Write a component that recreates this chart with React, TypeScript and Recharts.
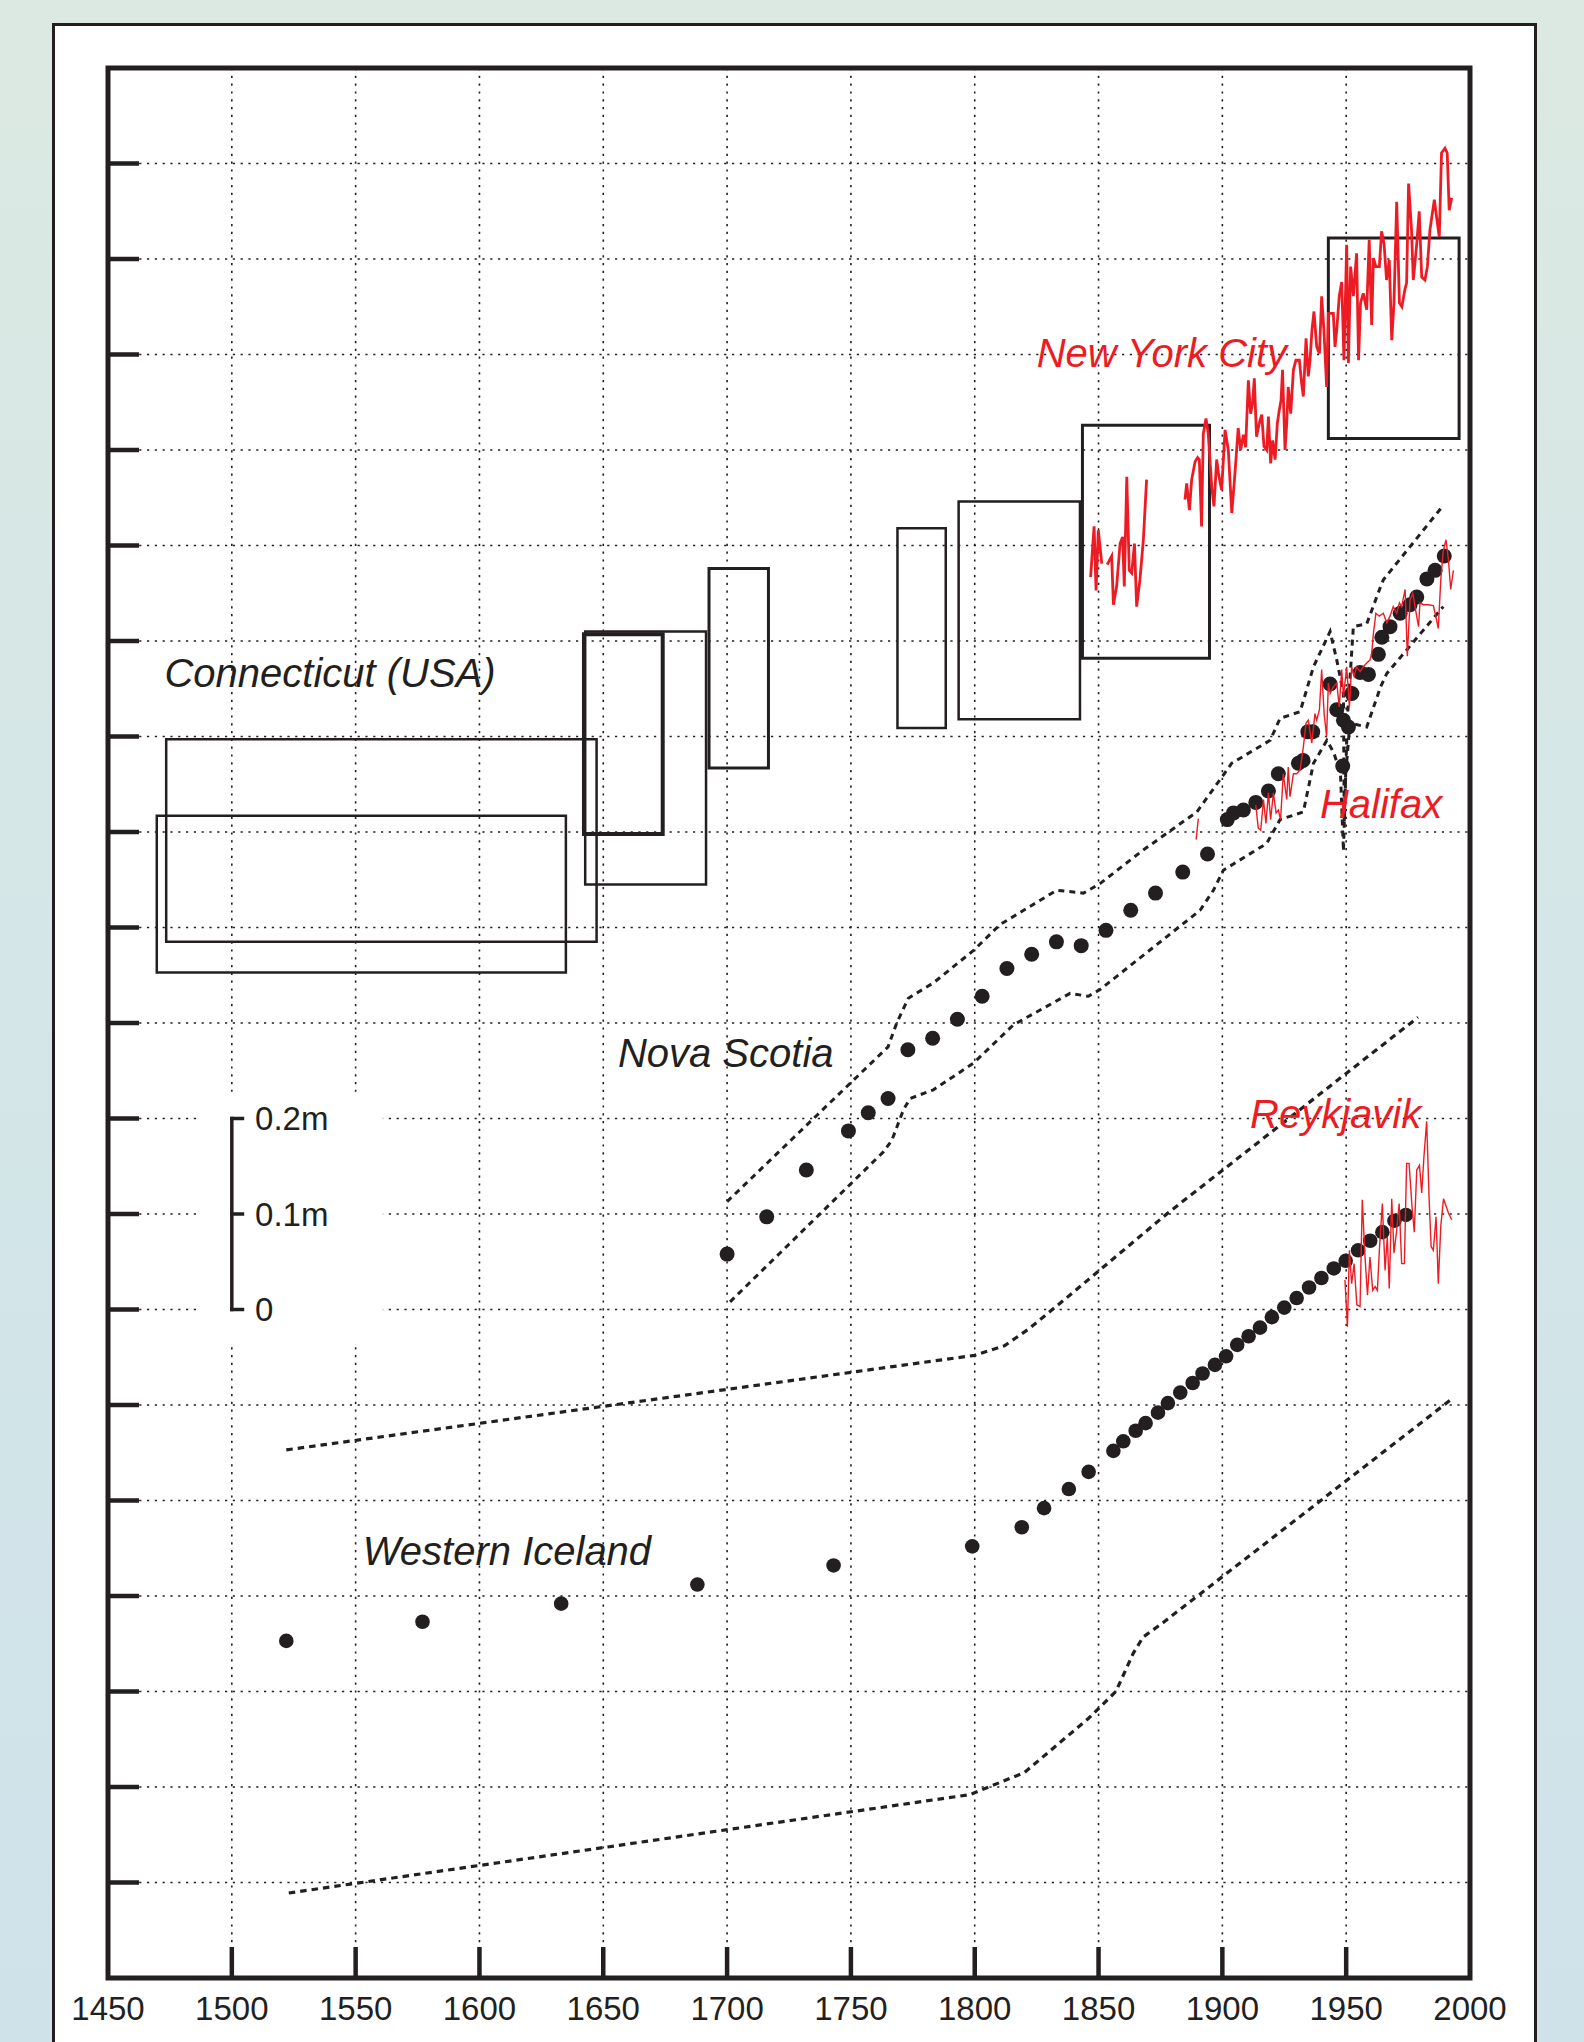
import React from 'react'
import {
  ComposedChart,
  XAxis,
  YAxis,
  CartesianGrid,
  Line,
  Scatter,
  ReferenceArea,
  ReferenceLine,
  ReferenceDot,
} from 'recharts'

const INK = '#231f20'
const RED = '#ed1c24'
const FONT = '"Liberation Sans", Arial, Helvetica, sans-serif'

type P = { year: number; v: number }
const pts = (rows: number[][]): P[] => rows.map(([year, v]) => ({ year, v }))

// axes
const yearTicks = [1450, 1500, 1550, 1600, 1650, 1700, 1750, 1800, 1850, 1900, 1950, 2000]
const levelTicks = [0.1, 0.2, 0.3, 0.4, 0.5, 0.6, 0.7, 0.8, 0.9, 1.0, 1.1, 1.2, 1.3, 1.4, 1.5, 1.6, 1.7, 1.8, 1.9]

// Connecticut salt-marsh boxes: [yearFrom, yearTo, levelLow, levelHigh, line width]
const connecticutBoxes = [
  [1469.7, 1634.9, 1.053, 1.217, 2.5],
  [1473.5, 1647.3, 1.085, 1.297, 2.5],
  [1642.2, 1674.0, 1.198, 1.407, 4],
  [1642.7, 1691.5, 1.145, 1.41, 2.5],
  [1692.7, 1716.7, 1.267, 1.476, 3],
  [1768.8, 1788.3, 1.309, 1.518, 2.5],
  [1793.5, 1842.5, 1.318, 1.546, 2.5],
  [1843.5, 1894.8, 1.382, 1.626, 3],
  [1942.8, 1995.6, 1.612, 1.822, 3],
]

// New York City tide gauge
const nycA = pts([[1846.8, 1.467], [1848.2, 1.52], [1849.0, 1.453], [1849.9, 1.516], [1851.3, 1.481]])
const nycB = pts([
  [1853.5, 1.48], [1855.3, 1.489], [1856.0, 1.438], [1857.3, 1.457], [1858.7, 1.502], [1859.7, 1.509],
  [1860.4, 1.457], [1861.4, 1.572], [1862.4, 1.474], [1863.4, 1.471], [1864.5, 1.502], [1865.4, 1.436],
  [1866.7, 1.464], [1868.1, 1.506], [1869.4, 1.569],
])
const nycC = pts([
  [1884.9, 1.548], [1885.6, 1.565], [1886.7, 1.537], [1887.6, 1.569], [1889.0, 1.588], [1890.0, 1.592],
  [1890.7, 1.59], [1891.6, 1.52], [1892.3, 1.617], [1893.4, 1.633], [1894.3, 1.617], [1895.7, 1.562],
  [1896.6, 1.541], [1897.7, 1.59], [1898.4, 1.576], [1899.7, 1.558], [1901.1, 1.621], [1902.4, 1.6],
  [1903.8, 1.534], [1905.1, 1.576], [1906.4, 1.623], [1907.4, 1.6], [1908.5, 1.616], [1909.4, 1.603],
  [1910.5, 1.673], [1911.4, 1.638], [1912.2, 1.649], [1912.9, 1.675], [1913.8, 1.614], [1914.9, 1.628],
  [1915.9, 1.637], [1916.8, 1.604], [1917.9, 1.6], [1918.6, 1.635], [1919.5, 1.586], [1920.3, 1.61],
  [1921.3, 1.59], [1922.2, 1.628], [1923.0, 1.642], [1923.7, 1.652], [1924.3, 1.684], [1925.3, 1.6],
  [1926.0, 1.628], [1926.6, 1.666], [1927.6, 1.638], [1928.7, 1.684], [1929.7, 1.694], [1931.1, 1.694],
  [1932.0, 1.67], [1932.7, 1.656], [1933.8, 1.717], [1934.7, 1.677], [1935.4, 1.694], [1936.2, 1.726],
  [1937.0, 1.745], [1938.1, 1.708], [1939.2, 1.701], [1940.1, 1.761], [1941.0, 1.726], [1942.1, 1.666],
  [1942.8, 1.743], [1944.8, 1.743], [1945.5, 1.708], [1946.2, 1.726], [1947.2, 1.761], [1948.2, 1.776],
  [1949.1, 1.694], [1950.2, 1.815], [1950.9, 1.691], [1951.8, 1.792], [1952.9, 1.761], [1954.2, 1.806],
  [1955.0, 1.694], [1955.8, 1.754], [1956.9, 1.764], [1958.3, 1.747], [1959.3, 1.82], [1960.3, 1.731],
  [1961.0, 1.801], [1962.0, 1.792], [1963.4, 1.792], [1964.3, 1.829], [1965.3, 1.816], [1966.3, 1.778],
  [1967.4, 1.799], [1968.4, 1.715], [1969.3, 1.754], [1970.4, 1.86], [1971.5, 1.754], [1972.5, 1.75],
  [1973.7, 1.768], [1974.4, 1.775], [1975.2, 1.879], [1976.4, 1.83], [1977.1, 1.778], [1978.5, 1.816],
  [1979.5, 1.85], [1980.5, 1.781], [1981.8, 1.778], [1982.8, 1.792], [1983.8, 1.83], [1985.6, 1.862],
  [1986.5, 1.844], [1987.6, 1.823], [1988.5, 1.911], [1989.9, 1.916], [1990.8, 1.911], [1991.6, 1.851],
  [1992.6, 1.864],
])

// Halifax tide gauge
const halifaxA = pts([[1889.4, 1.192], [1890.3, 1.214]])
const halifaxB = pts([
  [1913.5, 1.228], [1914.5, 1.204], [1915.5, 1.202], [1916.6, 1.234], [1917.6, 1.209], [1918.6, 1.241],
  [1919.5, 1.213], [1920.6, 1.241], [1921.7, 1.22], [1922.6, 1.223], [1923.5, 1.213], [1924.6, 1.261],
  [1926.0, 1.234], [1926.6, 1.268], [1927.3, 1.237], [1928.7, 1.261], [1930.0, 1.261], [1931.4, 1.265],
  [1932.7, 1.289], [1933.8, 1.314], [1934.7, 1.317], [1936.1, 1.293], [1937.4, 1.324], [1938.1, 1.317],
  [1939.2, 1.328], [1940.1, 1.37], [1941.1, 1.324], [1942.1, 1.3], [1942.8, 1.356], [1943.5, 1.345],
  [1944.8, 1.352], [1946.2, 1.356], [1947.2, 1.331], [1948.2, 1.37], [1948.9, 1.342], [1949.5, 1.356],
  [1950.2, 1.373], [1951.3, 1.331], [1952.2, 1.373], [1953.2, 1.363], [1954.2, 1.373], [1955.6, 1.368],
  [1956.9, 1.373], [1958.3, 1.377], [1959.6, 1.38], [1960.3, 1.387], [1961.0, 1.408], [1962.0, 1.429],
  [1963.4, 1.426], [1965.0, 1.429], [1966.4, 1.419], [1967.7, 1.426], [1969.0, 1.436], [1970.4, 1.429],
  [1971.5, 1.44], [1972.4, 1.436], [1973.8, 1.454], [1974.7, 1.384], [1975.8, 1.443], [1976.9, 1.45],
  [1977.8, 1.436], [1979.2, 1.415], [1979.8, 1.44], [1981.2, 1.438], [1983.2, 1.438], [1985.2, 1.437],
  [1986.5, 1.422], [1987.2, 1.413], [1988.2, 1.464], [1989.2, 1.494], [1990.3, 1.506], [1991.3, 1.485],
  [1992.2, 1.454], [1993.3, 1.474],
])

// Reykjavik tide gauge
const reykjavik = pts([
  [1949.5, 0.731], [1950.5, 0.682], [1951.3, 0.762], [1952.2, 0.727], [1953.2, 0.748], [1954.3, 0.705],
  [1955.6, 0.703], [1956.5, 0.815], [1957.6, 0.755], [1958.6, 0.715], [1959.6, 0.755], [1960.7, 0.72],
  [1961.7, 0.724], [1962.6, 0.72], [1963.4, 0.762], [1964.6, 0.811], [1965.7, 0.741], [1966.6, 0.776],
  [1967.4, 0.722], [1968.4, 0.816], [1969.3, 0.759], [1970.4, 0.783], [1971.4, 0.811], [1972.4, 0.748],
  [1973.5, 0.748], [1974.4, 0.853], [1975.4, 0.853], [1976.5, 0.811], [1977.5, 0.781], [1978.5, 0.846],
  [1979.6, 0.851], [1980.5, 0.822], [1981.4, 0.86], [1982.5, 0.897], [1983.5, 0.815], [1984.3, 0.766],
  [1985.2, 0.762], [1986.3, 0.797], [1987.2, 0.727], [1988.2, 0.787], [1989.3, 0.816], [1991.3, 0.801],
  [1992.6, 0.794],
])

// Nova Scotia reconstruction and its error band
const novaScotia = pts([
  [1700, 0.758], [1716, 0.797], [1732, 0.846], [1749, 0.887], [1757, 0.906], [1765, 0.921], [1773, 0.972],
  [1783, 0.984], [1793, 1.004], [1803, 1.028], [1813, 1.057], [1823, 1.072], [1833, 1.085], [1843, 1.081],
  [1853, 1.097], [1863, 1.118], [1873, 1.136], [1884, 1.158], [1894, 1.177], [1902, 1.213], [1904.5, 1.22],
  [1908.5, 1.223], [1913.5, 1.231], [1918.6, 1.243], [1922.6, 1.261], [1930.7, 1.272], [1932.6, 1.275],
  [1934.5, 1.305], [1936.5, 1.305], [1943.5, 1.355], [1946.2, 1.328], [1948.6, 1.269], [1948.9, 1.317],
  [1950.9, 1.31], [1952.3, 1.345], [1955.6, 1.367], [1959, 1.365], [1963, 1.386], [1964.4, 1.404],
  [1967.7, 1.415], [1971.8, 1.429], [1975.8, 1.438], [1978.5, 1.446], [1982.6, 1.465], [1985.9, 1.474],
  [1989.6, 1.489],
])
const novaUpper = pts([
  [1700, 0.813], [1765, 0.975], [1768.5, 1.0], [1773.2, 1.026], [1783.3, 1.042], [1799.5, 1.076],
  [1810.2, 1.103], [1833.1, 1.139], [1843.9, 1.136], [1850.6, 1.146], [1868, 1.181], [1889.7, 1.221],
  [1903.8, 1.272], [1919.3, 1.296], [1923.3, 1.319], [1931.4, 1.326], [1936.8, 1.373], [1943.5, 1.41],
  [1946.2, 1.38], [1948.9, 1.345], [1949.2, 1.21], [1950.5, 1.32], [1952.9, 1.415], [1958.3, 1.418],
  [1963.9, 1.457], [1965, 1.464], [1989.2, 1.542],
])
const novaLower = pts([
  [1701.2, 0.708], [1763.1, 0.865], [1766.5, 0.877], [1771.2, 0.909], [1773.9, 0.921], [1783.3, 0.93],
  [1799.5, 0.958], [1815.6, 0.998], [1838.5, 1.031], [1845.9, 1.028], [1850.6, 1.035], [1891, 1.118],
  [1896.4, 1.139], [1900.4, 1.16], [1917.9, 1.188], [1923.3, 1.213], [1932.7, 1.221], [1936.8, 1.272],
  [1942.2, 1.296], [1945, 1.283], [1947.7, 1.261], [1948.9, 1.18], [1949.8, 1.26], [1951.5, 1.314],
  [1958.3, 1.31], [1963.9, 1.352], [1966.4, 1.366], [1989.2, 1.436],
])

// Western Iceland reconstruction and its error band
const iceland = pts([
  [1522, 0.353], [1577, 0.373], [1633, 0.392], [1688, 0.412], [1743, 0.432], [1799, 0.452], [1819, 0.472],
  [1828, 0.492], [1838, 0.512], [1846, 0.53], [1856, 0.552], [1860, 0.562], [1865, 0.573], [1869, 0.581],
  [1874, 0.592], [1878, 0.602], [1883, 0.613], [1888, 0.623], [1892, 0.633], [1897, 0.642], [1901.5, 0.651],
  [1906, 0.663], [1910.6, 0.672], [1915.2, 0.681], [1920, 0.692], [1925, 0.702], [1930, 0.712],
  [1935, 0.723], [1940, 0.733], [1945, 0.743], [1949.8, 0.751], [1954.8, 0.762], [1959.7, 0.772],
  [1964.6, 0.781], [1969.5, 0.793], [1974.1, 0.799],
])
const icelandUpper = pts([
  [1522, 0.553], [1800, 0.652], [1812, 0.662], [1822, 0.68], [1837, 0.712], [1878, 0.801], [1979, 1.006],
])
const icelandLower = pts([
  [1523, 0.089], [1798, 0.192], [1820, 0.215], [1846, 0.272], [1857, 0.3], [1864, 0.34], [1868, 0.357],
  [1876, 0.372], [1992, 0.605],
])

// text annotations: [text, year, level, colour]
const seriesLabels: [string, number, number, string][] = [
  ['New York City', 1825.0, 1.687, RED],
  ['Halifax', 1939.4, 1.215, RED],
  ['Reykjavik', 1911.2, 0.89, RED],
  ['Connecticut (USA)', 1472.8, 1.352, INK],
  ['Nova Scotia', 1655.9, 0.954, INK],
  ['Western Iceland', 1552.9, 0.432, INK],
]

// scale bar: [label, level]
const scaleBar: [string, number][] = [
  ['0.2m', 0.9],
  ['0.1m', 0.8],
  ['0', 0.7],
]

function XTick(props: any) {
  const { x, y, payload } = props
  const v = payload.value
  const edge = v === 1450 || v === 2000
  return (
    <g>
      {!edge && <line x1={x} x2={x} y1={y - 31} y2={y} stroke={INK} strokeWidth={4.5} />}
      <text x={x} y={y + 42} textAnchor="middle" fontSize={33} fontFamily={FONT} fill={INK}>
        {v}
      </text>
    </g>
  )
}

// inward tick on the left frame, no label
function YTick(props: any) {
  const { x, y } = props
  return <line x1={x} x2={x + 31} y1={y} y2={y} stroke={INK} strokeWidth={4.5} />
}

const dot = (r: number) => (p: any) => <circle cx={p.cx} cy={p.cy} r={r} fill={INK} />

export default function App() {
  return (
    <div
      style={{
        position: 'absolute',
        left: 0,
        top: 0,
        width: 1584,
        height: 2042,
        overflow: 'hidden',
        background: 'linear-gradient(180deg, #dce9e2 0%, #d4e6e7 45%, #cfe2ea 100%)',
      }}
    >
      <div
        style={{
          position: 'absolute',
          left: 52,
          top: 23,
          width: 1485,
          height: 2100,
          background: '#fff',
          border: `3.5px solid ${INK}`,
          boxSizing: 'border-box',
        }}
      />
      <div style={{ position: 'absolute', left: 0, top: 0 }}>
        <ComposedChart width={1584} height={2042} margin={{ top: 68, right: 114, bottom: 0, left: 0 }}>
          <CartesianGrid stroke={INK} strokeWidth={1.6} strokeDasharray="2.2 5.6" />
          <XAxis
            type="number"
            dataKey="year"
            domain={[1450, 2000]}
            ticks={yearTicks}
            interval={0}
            height={64}
            tickSize={0}
            tickMargin={0}
            tickLine={false}
            axisLine={false}
            tick={<XTick />}
          />
          <YAxis
            type="number"
            dataKey="v"
            domain={[0, 2]}
            ticks={levelTicks}
            interval={0}
            width={108}
            tickSize={0}
            tickMargin={0}
            tickLine={false}
            axisLine={false}
            tick={<YTick />}
          />

          {/* white patch behind the scale bar */}
          <ReferenceArea
            x1={1485.9}
            x2={1561}
            y1={0.665}
            y2={0.928}
            fill="#fff"
            fillOpacity={1}
            stroke="none"
            zIndex={-50}
          />

          {connecticutBoxes.map(([a, b, lo, hi, w], i) => (
            <ReferenceArea
              key={'box' + i}
              x1={a}
              x2={b}
              y1={lo}
              y2={hi}
              fill="none"
              stroke={INK}
              strokeWidth={w}
              zIndex={300}
            />
          ))}

          <Line data={novaUpper} dataKey="v" stroke={INK} strokeWidth={3} strokeDasharray="6 5" dot={false} isAnimationActive={false} />
          <Line data={novaLower} dataKey="v" stroke={INK} strokeWidth={3} strokeDasharray="6 5" dot={false} isAnimationActive={false} />
          <Line data={icelandUpper} dataKey="v" stroke={INK} strokeWidth={3.2} strokeDasharray="6.5 5" dot={false} isAnimationActive={false} />
          <Line data={icelandLower} dataKey="v" stroke={INK} strokeWidth={3.2} strokeDasharray="6.5 5" dot={false} isAnimationActive={false} />

          <Scatter data={novaScotia} dataKey="v" fill={INK} shape={dot(7.5)} isAnimationActive={false} />
          <Scatter data={iceland} dataKey="v" fill={INK} shape={dot(7.3)} isAnimationActive={false} />

          <Line data={nycA} dataKey="v" stroke={RED} strokeWidth={2.8} dot={false} isAnimationActive={false} zIndex={700} />
          <Line data={nycB} dataKey="v" stroke={RED} strokeWidth={2.8} dot={false} isAnimationActive={false} zIndex={700} />
          <Line data={nycC} dataKey="v" stroke={RED} strokeWidth={2.8} dot={false} isAnimationActive={false} zIndex={700} />
          <Line data={halifaxA} dataKey="v" stroke={RED} strokeWidth={1.4} dot={false} isAnimationActive={false} zIndex={700} />
          <Line data={halifaxB} dataKey="v" stroke={RED} strokeWidth={1.4} dot={false} isAnimationActive={false} zIndex={700} />
          <Line data={reykjavik} dataKey="v" stroke={RED} strokeWidth={1.4} dot={false} isAnimationActive={false} zIndex={700} />

          {/* scale bar */}
          <ReferenceLine
            segment={[{ x: 1500, y: 0.7 }, { x: 1500, y: 0.9 }]}
            stroke={INK}
            strokeWidth={3.5}
            strokeLinecap="square"
            zIndex={800}
          />
          {scaleBar.map(([t, lv]) => (
            <ReferenceLine
              key={'sb' + t}
              segment={[{ x: 1500, y: lv }, { x: 1504.3, y: lv }]}
              stroke={INK}
              strokeWidth={3.5}
              strokeLinecap="square"
              zIndex={800}
            />
          ))}
          {scaleBar.map(([t, lv]) => (
            <ReferenceDot
              key={'sbl' + t}
              x={1509.4}
              y={lv}
              r={0}
              zIndex={2000}
              shape={(p: any) => (
                <text x={p.cx} y={p.cy} dominantBaseline="central" fontSize={33} fontFamily={FONT} fill={INK}>
                  {t}
                </text>
              )}
            />
          ))}

          {seriesLabels.map(([t, yr, lv, c]) => (
            <ReferenceDot
              key={t}
              x={yr}
              y={lv}
              r={0}
              zIndex={2000}
              shape={(p: any) => (
                <text x={p.cx} y={p.cy} fontSize={40} fontStyle="italic" fontFamily={FONT} fill={c}>
                  {t}
                </text>
              )}
            />
          ))}

          {/* frame of the plot */}
          <ReferenceArea x1={1450} x2={2000} y1={0} y2={2} fill="none" stroke={INK} strokeWidth={5} zIndex={1500} />
        </ComposedChart>
      </div>
    </div>
  )
}
